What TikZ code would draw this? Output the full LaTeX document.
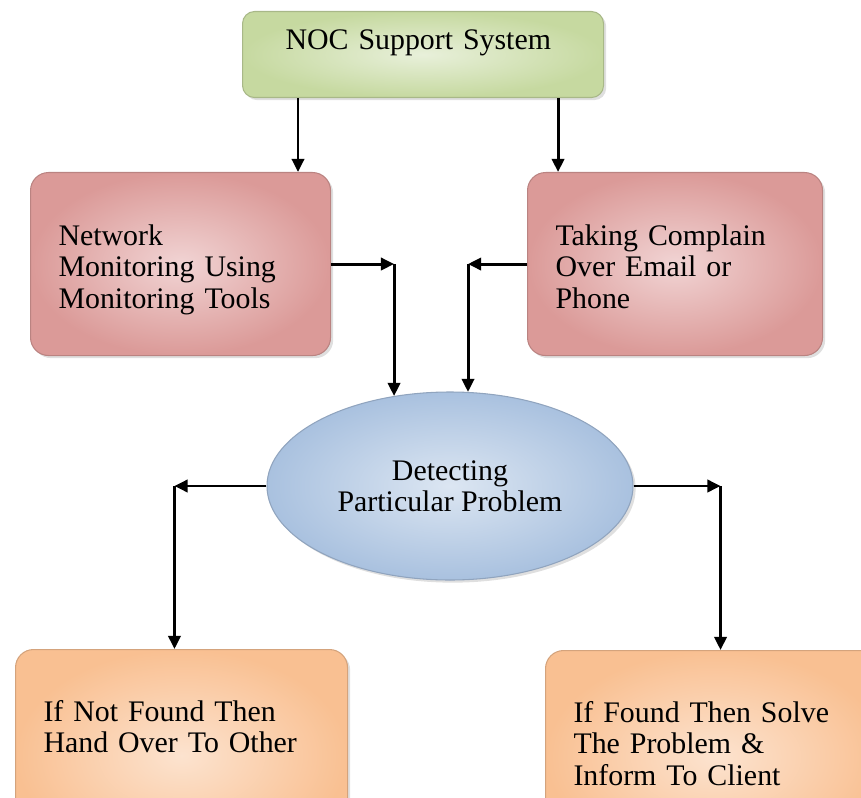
\documentclass[tikz,border=0pt]{standalone}
\usepackage{fontspec}
\setmainfont{Liberation Serif}
\usetikzlibrary{shapes,positioning,shadows,arrows.meta,calc}
\newlength{\pxu}
\setlength{\pxu}{0.02cm}
\definecolor{grnout}{HTML}{C6D9A0}
\definecolor{grnin}{HTML}{E8F0DA}
\definecolor{redout}{HTML}{DB9A98}
\definecolor{redin}{HTML}{F1D4D4}
\definecolor{bluout}{HTML}{A9C1DF}
\definecolor{bluin}{HTML}{DCE6F2}
\definecolor{orgout}{HTML}{F9C092}
\definecolor{orgin}{HTML}{FCE3CF}

\begin{document}
\begin{tikzpicture}[x=1\pxu,y=-1\pxu,>={Triangle[length=7.5pt,width=7pt]},
    conn/.style={->,line width=1.7pt},
    main box/.style={rectangle,rounded corners=18\pxu,anchor=north west,inner ysep=0pt,inner xsep=28\pxu,align=left,line width=0.6pt,
        font=\fontsize{17}{17.8}\selectfont,drop shadow={opacity=0.25,shadow xshift=1.5pt,shadow yshift=-1.5pt}},
    green box/.style={main box,draw=grnout!85!black,inner color=grnin,outer color=grnout},
    red box/.style={main box,draw=redout!85!black,inner color=redin,outer color=redout},
    orange box/.style={main box,draw=orgout!85!black,inner color=orgin,outer color=orgout},
    oval node/.style={ellipse,minimum width=366\pxu,minimum height=188\pxu,inner sep=0pt,align=center,line width=0.6pt,
        draw=bluout!85!black,inner color=bluin,outer color=bluout,font=\fontsize{17}{17.8}\selectfont,
        drop shadow={opacity=0.25,shadow xshift=1.5pt,shadow yshift=-1.5pt}}]

    \clip (0,0) rectangle (861,797);

    \node[green box,text width=275\pxu,inner xsep=43\pxu,text height=38\pxu,text depth=48\pxu,rounded corners=12\pxu] (noc) at (242,11) {NOC Support System};
    \node[red box,text width=244\pxu,text height=73\pxu,text depth=110\pxu] (net) at (30,172) {Network\\Monitoring Using\\Monitoring Tools};
    \node[red box,text width=239\pxu,text height=73\pxu,text depth=110\pxu] (tak) at (527,172) {Taking Complain\\Over Email or\\Phone};
    \node[oval node] (dec) at (450,486) {Detecting\\Particular Problem};
    \node[orange box,text width=276\pxu,text height=72\pxu,text depth=140\pxu] (hand) at (15,649) {If Not Found Then\\Hand Over To Other};
    \node[orange box,text width=284\pxu,text height=72\pxu,text depth=140\pxu] (solve) at (545,650) {If Found Then Solve\\The Problem \&\\Inform To Client};

    \coordinate (jl) at ([xshift=63\pxu]net.east);
    \coordinate (jr) at ([xshift=-59\pxu]tak.west);
    \coordinate (kl) at ([xshift=-92\pxu]dec.west);
    \coordinate (kr) at ([xshift=87\pxu]dec.east);

    \draw[conn] ([xshift=56\pxu]noc.south west) -- ([xshift=56\pxu]noc.south west |- net.north);
    \draw[conn] ([xshift=-46\pxu]noc.south east) -- ([xshift=-46\pxu]noc.south east |- tak.north);
    \draw[conn] (net.east) -- (jl);
    \draw[conn] (jl) -- (jl |- dec.122.5);
    \draw[conn] (tak.west) -- (jr);
    \draw[conn] (jr) -- (jr |- dec.79);
    \draw[conn] (dec.west) -- (kl);
    \draw[conn] (kl) -- (kl |- hand.north);
    \draw[conn] (dec.east) -- (kr);
    \draw[conn] (kr) -- (kr |- solve.north);
\end{tikzpicture}
\end{document}
